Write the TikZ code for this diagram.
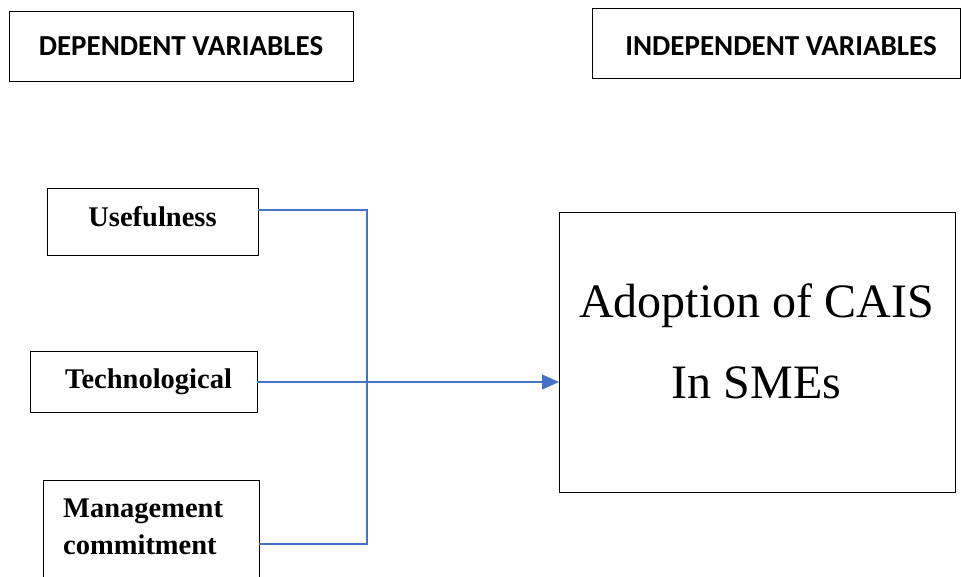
\documentclass[tikz,border=0pt]{standalone}
\usepackage{fontspec}
\setmainfont{Liberation Serif}
\newfontfamily\calibri{Carlito}
\usetikzlibrary{arrows.meta}
\definecolor{lineblue}{HTML}{4472C4}
\tikzset{
  box/.style={draw=black, line width=1pt, inner sep=0pt},
  conn/.style={draw=lineblue, line width=1.1pt},
  hdr/.style={anchor=base, inner sep=0pt, font=\calibri\bfseries\fontsize{29}{34}\selectfont},
  lbl/.style={anchor=base, inner sep=0pt, font=\bfseries\fontsize{28.5}{34}\selectfont},
  big/.style={anchor=base, inner sep=0pt, font=\fontsize{48}{56}\selectfont}
}
\begin{document}
\begin{tikzpicture}[x=1pt,y=-1pt]
\useasboundingbox (0,0) rectangle (961,576);
% header boxes
\node[box, minimum width=344pt, minimum height=70pt] (depbox) at (181,46) {};
\node[hdr] (deptxt) at (181,55) {DEPENDENT VARIABLES};
\node[box, minimum width=368pt, minimum height=70pt] (indbox) at (776,43) {};
\node[hdr] (indtxt) at (781,55) {INDEPENDENT VARIABLES};
% left boxes
\node[box, minimum width=211pt, minimum height=67pt] (use) at (152.5,221.5) {};
\node[lbl] (usetxt) at (152.5,226) {Usefulness};
\node[box, minimum width=227pt, minimum height=61pt] (tech) at (143.5,381.5) {};
\node[lbl] (techtxt) at (148.5,388) {Technological};
\node[box, minimum width=216pt, minimum height=110pt] (mgmt) at (151,535) {};
\node[lbl, anchor=base west] (mgmttxt1) at (63,517) {Management};
\node[lbl, anchor=base west] (mgmttxt2) at (63,554) {commitment};
% big box
\node[box, minimum width=396pt, minimum height=280pt] (cais) at (757,352) {};
\node[big] (caistxt1) at (756.5,317) {Adoption of CAIS};
\node[big] (caistxt2) at (756.5,398) {In SMEs};
% connector coordinates
\coordinate (ua) at (258,210);
\coordinate (ub) at (367,210);
\coordinate (ma) at (259,544);
\coordinate (mb) at (367,544);
\coordinate (ta) at (257,382);
\coordinate (tb) at (559,382);
\draw[conn] (ua) -- (ub) -- (mb) -- (ma);
\draw[conn, -{Triangle[length=17pt,width=15pt]}] (ta) -- (tb);
\end{tikzpicture}
\end{document}
